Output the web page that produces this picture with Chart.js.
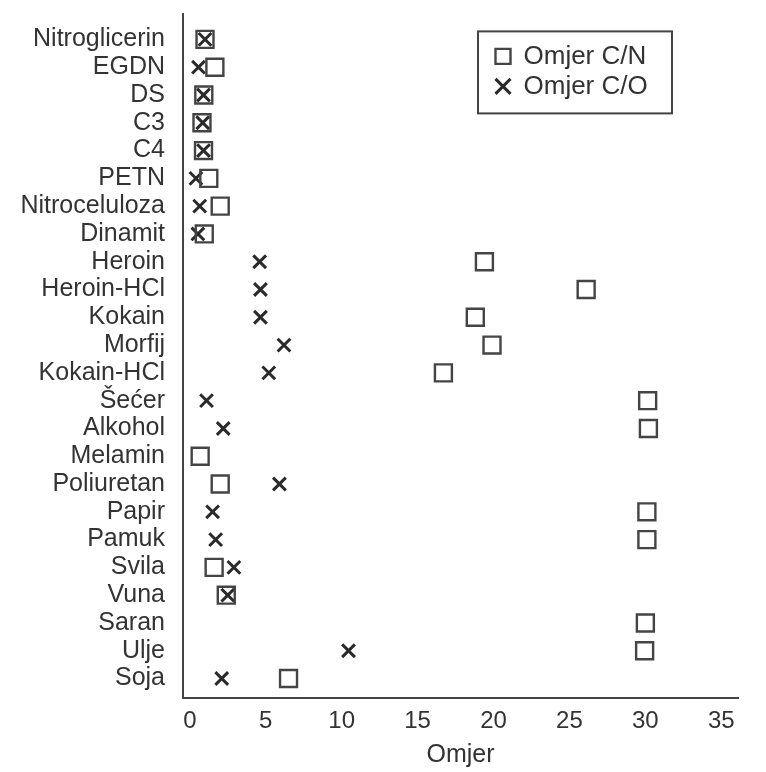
<!DOCTYPE html>
<html>
<head>
<meta charset="utf-8">
<script src="https://cdn.jsdelivr.net/npm/chart.js@4/dist/chart.umd.min.js"></script>
<style>
  html, body { margin: 0; padding: 0; background: #ffffff; }
  #wrap { width: 766px; height: 772px; position: relative; }
</style>
</head>
<body>
<div id="wrap"><canvas id="c"></canvas></div>
<script>
const categories = ['Nitroglicerin','EGDN','DS','C3','C4','PETN','Nitroceluloza','Dinamit','Heroin','Heroin-HCl','Kokain','Morfij','Kokain-HCl','Šećer','Alkohol','Melamin','Poliuretan','Papir','Pamuk','Svila','Vuna','Saran','Ulje','Soja'];
const cnRatio = [1.0, 1.65, 0.92, 0.8, 0.9, 1.25, 2.0, 0.95, 19.4, 26.1, 18.8, 19.9, 16.7, 30.15, 30.2, 0.68, 2.0, 30.1, 30.1, 1.6, 2.4, 30.0, 29.95, 6.5];
const coRatio = [1.0, 0.57, 0.9, 0.85, 0.9, 0.4, 0.65, 0.53, 4.6, 4.65, 4.65, 6.2, 5.2, 1.1, 2.2, null, 5.9, 1.5, 1.7, 2.9, 2.5, null, 10.45, 2.1];
const xTicks = [0, 5, 10, 15, 20, 25, 30, 35];
const seriesNames = ['Omjer C/N', 'Omjer C/O'];
const axisTitle = 'Omjer';

const FONT = "'Liberation Sans', Arial, Helvetica, sans-serif";
const INK = '#333333';
const LINE = '#444444';

const toPoints = (vals) => vals.map((v, i) => (v == null ? null : { x: v, y: i })).filter(p => p);

const legendBox = { rightGap: 66, topGap: 17, w: 194, h: 82 };

const legendPlacer = {
  id: 'legendPlacer',
  afterLayout(chart) {
    const lg = chart.legend;
    if (!lg) return;
    const ca = chart.chartArea;
    const bx = ca.right - legendBox.rightGap - legendBox.w;
    const by = ca.top + legendBox.topGap;
    lg.left = bx + 13.5;
    lg.top = by + 8;
    lg.right = lg.left + legendBox.w - 14;
    lg.bottom = lg.top + legendBox.h - 9;
    lg.width = lg.right - lg.left;
    lg.height = lg.bottom - lg.top;
    chart.$legendFrame = { x: bx, y: by, w: legendBox.w, h: legendBox.h };
  },
  afterDraw(chart) {
    const f = chart.$legendFrame;
    if (!f) return;
    const ctx = chart.ctx;
    ctx.save();
    ctx.strokeStyle = LINE;
    ctx.lineWidth = 2;
    ctx.strokeRect(f.x, f.y, f.w, f.h);
    ctx.restore();
  }
};

new Chart(document.getElementById('c'), {
  type: 'scatter',
  data: {
    datasets: [
      {
        label: seriesNames[0],
        data: toPoints(cnRatio),
        pointStyle: 'rect',
        pointRadius: 12,
        pointHoverRadius: 12,
        borderWidth: 2.4,
        borderColor: LINE,
        backgroundColor: 'rgba(0,0,0,0)',
        clip: false
      },
      {
        label: seriesNames[1],
        data: toPoints(coRatio),
        pointStyle: 'crossRot',
        pointRadius: 9,
        pointHoverRadius: 9,
        borderWidth: 3,
        borderColor: '#2a2a2a',
        backgroundColor: 'rgba(0,0,0,0)',
        clip: false
      }
    ]
  },
  options: {
    responsive: true,
    maintainAspectRatio: false,
    animation: false,
    events: [],
    layout: { padding: { left: 0, right: 28, top: 13, bottom: 0 } },
    plugins: {
      tooltip: { enabled: false },
      legend: {
        display: true,
        position: 'chartArea',
        align: 'start',
        labels: {
          usePointStyle: true,
          boxWidth: 15,
          boxHeight: 15,
          padding: 4,
          color: INK,
          font: { family: FONT, size: 26, lineHeight: 1 }
        }
      }
    },
    scales: {
      x: {
        type: 'linear',
        position: 'bottom',
        min: -0.45,
        max: 36.1,
        afterBuildTicks: (s) => { s.ticks = xTicks.map(v => ({ value: v })); },
        afterFit: (s) => { s.height = 74; s.paddingLeft = 0; s.paddingRight = 0; },
        grid: { display: false, drawTicks: false },
        border: { display: true, color: LINE, width: 2 },
        ticks: {
          padding: 11,
          color: INK,
          maxRotation: 0,
          autoSkip: false,
          font: { family: FONT, size: 24, lineHeight: 1 }
        },
        title: {
          display: true,
          text: axisTitle,
          color: INK,
          font: { family: FONT, size: 25, lineHeight: 1 },
          padding: { top: 0, bottom: 4 }
        }
      },
      y: {
        type: 'linear',
        position: 'left',
        reverse: true,
        min: -0.9,
        max: 23.7,
        afterBuildTicks: (s) => { s.ticks = categories.map((_, i) => ({ value: i })); },
        afterFit: (s) => { s.width = 183; s.paddingTop = 0; s.paddingBottom = 0; },
        grid: { display: false, drawTicks: false },
        border: { display: true, color: LINE, width: 2 },
        ticks: {
          padding: 18,
          color: INK,
          autoSkip: false,
          font: { family: FONT, size: 25, lineHeight: 1 },
          callback: (v) => categories[v]
        }
      }
    }
  },
  plugins: [legendPlacer]
});
</script>
</body>
</html>
